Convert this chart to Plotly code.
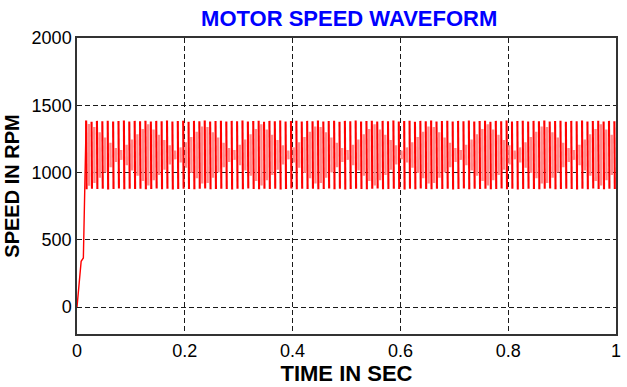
import plotly.graph_objects as go

# ---- data -------------------------------------------------------------
# start-up transient (time in s, speed in rpm)
startup_t = [0.0, 0.0012, 0.0030, 0.0058, 0.0077, 0.0118, 0.0130, 0.0145, 0.0156, 0.0170]
startup_rpm = [0, 60, 150, 290, 340, 365, 600, 830, 890, 1384]

# steady-state ripple (100 Hz): crest / valley speed of every ripple cycle
ripple_period = 0.01
first_crest_t = 0.017
crest_rpm = [
    1386, 1378, 1384, 1381, 1385, 1379, 1383, 1386, 1380, 1384,
    1382, 1385, 1379, 1384, 1381, 1386, 1380, 1383, 1385, 1378,
    1384, 1382, 1386, 1380, 1383, 1385, 1379, 1384, 1381, 1386,
    1380, 1383, 1385, 1378, 1384, 1382, 1386, 1380, 1383, 1385,
    1379, 1384, 1381, 1386, 1380, 1383, 1385, 1378, 1384, 1382,
    1386, 1380, 1383, 1385, 1379, 1384, 1381, 1386, 1380, 1383,
    1385, 1378, 1384, 1382, 1386, 1380, 1383, 1385, 1379, 1384,
    1381, 1386, 1380, 1383, 1385, 1378, 1384, 1382, 1386, 1380,
    1383, 1385, 1379, 1384, 1381, 1386, 1380, 1383, 1385, 1378,
    1384, 1382, 1386, 1380, 1383, 1385, 1379, 1384, 1381,
]
valley_rpm = [
    875, 880, 877, 879, 874, 878, 881, 876, 879, 877,
    880, 875, 878, 881, 876, 879, 874, 877, 880, 878,
    876, 879, 881, 875, 878, 880, 877, 874, 879, 876,
    881, 878, 875, 880, 877, 879, 874, 878, 881, 876,
    879, 877, 880, 875, 878, 881, 876, 879, 874, 877,
    880, 878, 876, 879, 881, 875, 878, 880, 877, 874,
    879, 876, 881, 878, 875, 880, 877, 879, 874, 878,
    881, 876, 879, 877, 880, 875, 878, 881, 876, 879,
    874, 877, 880, 878, 876, 879, 881, 875, 878, 880,
    877, 874, 879, 876, 881, 878, 875, 880, 877,
]
# mid-cycle swing around the mean speed (half-height, rpm) of every cycle
ripple_mean_rpm = 1131
mid_swing_rpm = [
    230, 208, 169, 130, 91, 52, 37, 76, 115, 154,
    193, 228, 189, 150, 111, 72, 33, 56, 95, 134,
    173, 212, 208, 169, 130, 91, 52, 37, 76, 115,
    154, 193, 228, 189, 150, 111, 72, 33, 56, 95,
    134, 173, 212, 208, 169, 130, 91, 52, 37, 76,
    115, 154, 193, 228, 189, 150, 111, 72, 33, 56,
    95, 134, 173, 212, 208, 169, 130, 91, 52, 37,
    76, 115, 154, 193, 228, 189, 150, 111, 72, 33,
    56, 95, 134, 173, 212, 208, 169, 130, 91, 52,
    37, 76, 115, 154, 193, 228, 189, 150, 111,
]

x_ticks = [0, 0.2, 0.4, 0.6, 0.8, 1]
x_tick_text = ["0", "0.2", "0.4", "0.6", "0.8", "1"]
y_ticks = [0, 500, 1000, 1500, 2000]

# ---- assemble the ripple strokes ---------------------------------------
# full crest-to-valley strokes
full_t, full_rpm = [], []
# partial mid-cycle strokes
mid_t, mid_rpm = [], []
for k, (hi, lo, sw) in enumerate(zip(crest_rpm, valley_rpm, mid_swing_rpm)):
    tc = first_crest_t + k * ripple_period
    full_t += [tc, tc + 0.0008, None]
    full_rpm += [hi, lo, None]
    tm = tc + ripple_period / 2
    mid_t += [tm, tm + 0.0004, None]
    mid_rpm += [ripple_mean_rpm + sw, ripple_mean_rpm - sw, None]

# ---- figure -----------------------------------------------------------
fig = go.Figure()
fig.add_trace(go.Scatter(x=mid_t, y=mid_rpm, mode="lines", connectgaps=False,
                         line=dict(color="#ff8a8a", width=2.4), hoverinfo="skip"))
fig.add_trace(go.Scatter(x=full_t, y=full_rpm, mode="lines", connectgaps=False,
                         line=dict(color="#ff0000", width=2.1), hoverinfo="skip"))
fig.add_trace(go.Scatter(x=startup_t, y=startup_rpm, mode="lines",
                         line=dict(color="#ff0000", width=1.4), hoverinfo="skip"))

axis_style = dict(showgrid=True, gridcolor="#1a1a1a", gridwidth=1.2, griddash="5px,3px",
                  zeroline=False, showline=True, linecolor="#333333", linewidth=1.5,
                  mirror=True, ticks="", color="black",
                  tickfont=dict(family="Liberation Sans, Arial", size=18, color="black"))

fig.update_layout(
    width=627, height=387,
    margin=dict(l=77, r=6, t=38, b=51),
    paper_bgcolor="white", plot_bgcolor="white",
    showlegend=False,
    title=dict(text="<b>MOTOR SPEED WAVEFORM</b>", x=0.505, xref="paper",
               xanchor="center", y=1 - 18 / 387, yanchor="middle",
               font=dict(family="Liberation Sans, Arial", size=22, color="#0000ff")),
    xaxis=dict(range=[0, 1], tickvals=x_ticks, ticktext=x_tick_text,
               title=dict(text="<b>TIME IN SEC</b>", standoff=4,
                          font=dict(family="Liberation Sans, Arial", size=22, color="black")),
               **axis_style),
    yaxis=dict(range=[-200, 2000], tickvals=y_ticks,
               title=dict(text="<b>SPEED IN RPM</b>", standoff=7,
                          font=dict(family="Liberation Sans, Arial", size=20, color="black")),
               **axis_style),
)

fig.write_html("out.html")
